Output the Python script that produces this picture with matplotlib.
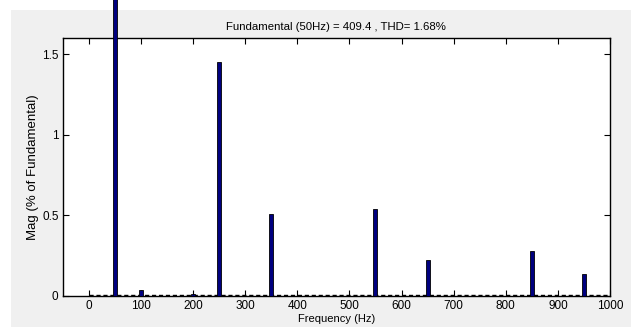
import matplotlib

matplotlib.use("Agg")
import matplotlib.pyplot as plt
from matplotlib.patches import Rectangle

# harmonic spectrum (% of fundamental), fundamental bar runs off the top
freqs = [50, 100, 200, 250, 350, 550, 650, 850, 950]
mags = [100.0, 0.035, 0.015, 1.45, 0.51, 0.537, 0.225, 0.28, 0.135]
noise_floor = 0.006
xticks = [0, 100, 200, 300, 400, 500, 600, 700, 800, 900, 1000]
yticks = [0, 0.5, 1, 1.5]
ytick_labels = ["0", "0.5", "1", "1.5"]

plt.rcParams["font.family"] = ["Liberation Sans", "DejaVu Sans"]

fig = plt.figure(figsize=(6.37, 3.27), dpi=100, facecolor="white")
# grey MATLAB-style figure panel inside a thin white border
fig.patches.append(
    Rectangle((11 / 637, 0), 620 / 637, 317 / 327, transform=fig.transFigure,
              facecolor="#f0f0f0", edgecolor="none", zorder=-10)
)

ax = fig.add_axes([62.7 / 637, 31 / 327, 547.3 / 637, 258 / 327])
ax.set_facecolor("white")

ax.hlines(noise_floor, 0, 1000, colors="black", linestyles=(0, (3, 2)),
          linewidth=1.0, zorder=1)
ax.bar(freqs, mags, width=7.5, color="#00007f", edgecolor="black",
       linewidth=0.6, clip_on=False, zorder=3)

ax.set_xlim(-50, 1000)
ax.set_ylim(0, 1.6)
ax.set_xticks(xticks)
ax.set_yticks(yticks)
ax.set_yticklabels(ytick_labels)
ax.tick_params(direction="in", top=True, right=True, length=4, width=0.8,
               labelsize=8.5, pad=3)
for s in ax.spines.values():
    s.set_linewidth(1.0)

ax.set_xlabel("Frequency (Hz)", fontsize=8, labelpad=1)
ax.set_ylabel("Mag (% of Fundamental)", fontsize=9.5, labelpad=2)
ax.set_title("Fundamental (50Hz) = 409.4 , THD= 1.68%", fontsize=8.2, pad=6)

fig.savefig("out.png", dpi=100)
